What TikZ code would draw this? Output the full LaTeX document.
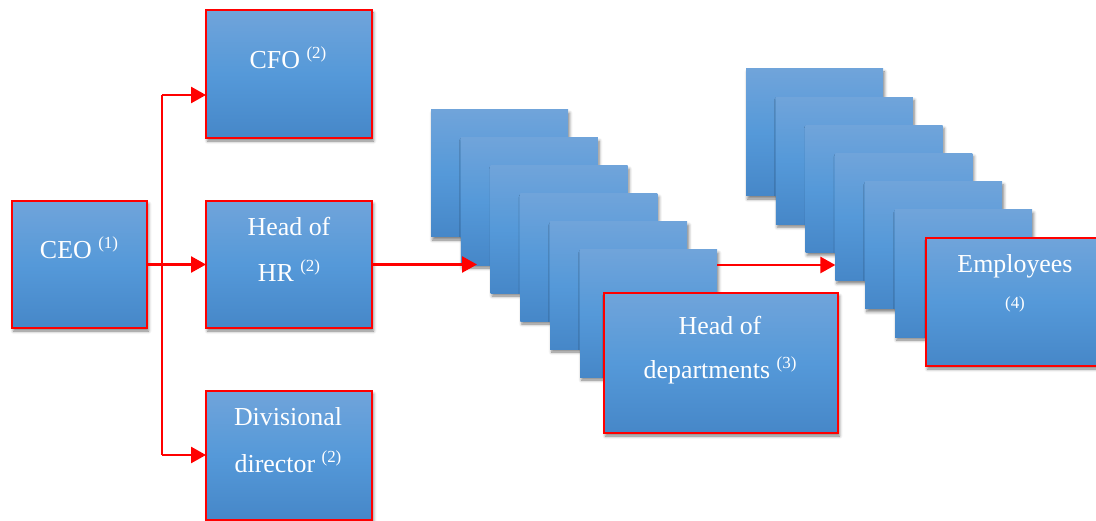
\documentclass[tikz,border=0pt]{standalone}
\usepackage{fontspec}
\setmainfont{Liberation Serif}
\usetikzlibrary{shadows.blur,arrows.meta}
\definecolor{cardtop}{RGB}{112,164,218}
\definecolor{cardmid}{RGB}{85,153,217}
\definecolor{cardbot}{RGB}{70,135,200}
\definecolor{linkred}{RGB}{255,0,0}
% level number set as a raised, smaller label
\newcommand{\lvl}[1]{\raisebox{10bp}{\fontsize{17}{17}\selectfont(#1)}}
\begin{document}
\begin{tikzpicture}[x=1bp,y=-1bp,
  card/.style={rectangle, anchor=north west, inner sep=0, outer sep=0,
    minimum width=137bp, minimum height=127bp,
    top color=cardtop, bottom color=cardbot, middle color=cardmid,
    blur shadow={shadow xshift=1.5bp, shadow yshift=-3bp,
      shadow blur radius=3bp, shadow opacity=50}},
  rolebox/.style={card, draw=linkred, line width=1.9bp},
  lbl/.style={anchor=base, inner sep=0, text=white, font=\fontsize{26}{30}\selectfont},
  link/.style={draw=linkred, line width=2.6bp, -{Triangle[length=15bp,width=16bp]}},
  trunk/.style={draw=linkred, line width=1.3bp}]
\useasboundingbox (0,0) rectangle (1096,521);

% top management
\node[rolebox, minimum width=135bp, minimum height=127bp] (ceo) at (12,201) {};
\node[rolebox, minimum width=166bp, minimum height=128bp] (cfo) at (206,10) {};
\node[rolebox, minimum width=166bp, minimum height=127bp] (hr)  at (206,201) {};
\node[rolebox, minimum width=166bp, minimum height=129bp] (div) at (206,391) {};

% stack of department heads
\foreach \i in {1,...,6}
  \node[card] (d\i) at ({431+29.8*(\i-1)}, {110+28*(\i-1)}) {};
\node[rolebox, minimum width=234bp, minimum height=140bp] (hod) at (604,293) {};

% stack of employees
\foreach \i in {1,...,6}
  \node[card] (e\i) at ({746+29.8*(\i-1)}, {69+28.2*(\i-1)}) {};
\node[rolebox, minimum width=178bp, minimum height=128bp] (emp) at (926,238) {};

% labels
\node[lbl] (ceoT)  at (79,259)  {CEO \lvl{1}};
\node[lbl] (cfoT)  at (288,69)  {CFO \lvl{2}};
\node[lbl] (hrT1)  at (289,236) {Head of};
\node[lbl] (hrT2)  at (289,282) {HR \lvl{2}};
\node[lbl] (divT1) at (288,425) {Divisional};
\node[lbl] (divT2) at (288,472) {director \lvl{2}};
\node[lbl] (hodT1) at (720,335) {Head of};
\node[lbl] (hodT2) at (720,379) {departments \lvl{3}};
\node[lbl] (empT1) at (1015,273) {Employees};
\node[lbl, font=\fontsize{17}{17}\selectfont] (empT2) at (1015,309) {(4)};

% connectors
\coordinate (jt) at (162,95);
\coordinate (jb) at (162,455);
\coordinate (row) at (0,265);
\coordinate (hrtip) at (477,0);
\draw[trunk] (jt) -- (jb);
\draw[link] (jt) -- (cfo.west |- jt);
\draw[link] (jb) -- (div.west |- jb);
\draw[link] (ceo.east) -- (hr.west);
\draw[link] (hr.east) -- (hr.east -| hrtip);
\draw[link] (d6.east |- row) -- (e4.west |- row);
\end{tikzpicture}
\end{document}
